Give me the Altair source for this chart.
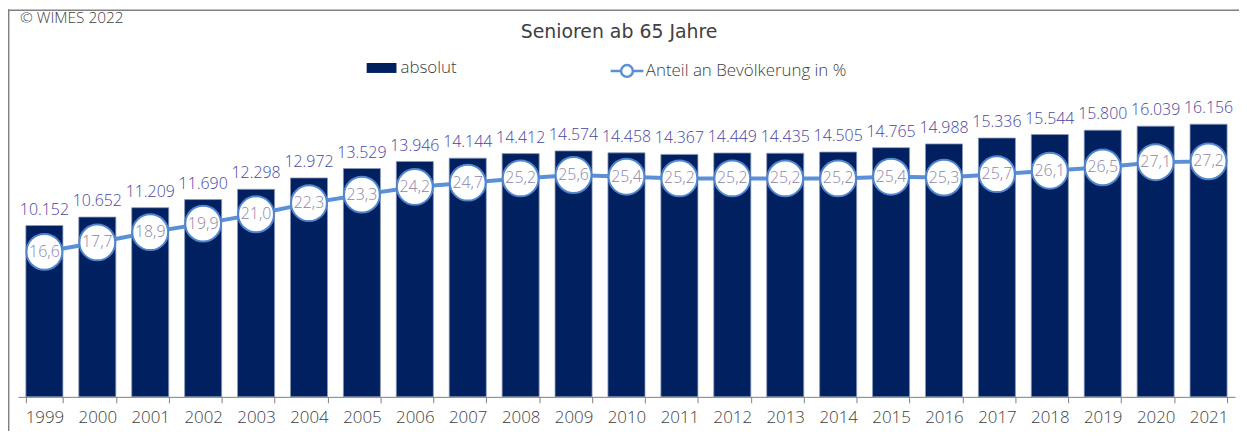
import altair as alt
import pandas as pd

years = [str(y) for y in range(1999, 2022)]
absolut = [10152, 10652, 11209, 11690, 12298, 12972, 13529, 13946, 14144, 14412, 14574, 14458,
           14367, 14449, 14435, 14505, 14765, 14988, 15336, 15544, 15800, 16039, 16156]
anteil = [16.6, 17.7, 18.9, 19.9, 21.0, 22.3, 23.3, 24.2, 24.7, 25.2, 25.6, 25.4,
          25.2, 25.2, 25.2, 25.2, 25.4, 25.3, 25.7, 26.1, 26.5, 27.1, 27.2]

S_ABS = "absolut"
S_PCT = "Anteil an Bevölkerung in %"
TITLE = "Senioren ab 65 Jahre"
COPY = "© WIMES 2022"

df = pd.DataFrame({
    "Jahr": years,
    "absolut": absolut,
    "anteil": anteil,
})
df["abs_label"] = [f"{v:,}".replace(",", ".") for v in absolut]
df["pct_label"] = [f"{v:.1f}".replace(".", ",") for v in anteil]
df["s_abs"] = S_ABS
df["s_pct"] = S_PCT

FONT = "Open Sans"
W, H = 1225, 310

x = alt.X("Jahr:N", sort=years, title=None,
          scale=alt.Scale(paddingInner=0.3, paddingOuter=0.15),
          axis=alt.Axis(labelAngle=0, labelFontSize=17, labelColor="#404040", labelFont=FONT,
                        labelFontWeight=300, domainColor="#808080", tickColor="#808080",
                        tickSize=6, tickBand="extent", labelPadding=7, grid=False))

yabs = alt.Y("absolut:Q", axis=None, scale=alt.Scale(domain=[0, 18250], nice=False, zero=True))
ypct = alt.Y("anteil:Q", axis=None, scale=alt.Scale(domain=[-0.4, 35.7], nice=False, zero=False))

base = alt.Chart(df)

bars = base.mark_bar(stroke="#8C9AB8", strokeWidth=0.8).encode(
    x=x, y=yabs,
    color=alt.Color("s_abs:N", title=None,
                    scale=alt.Scale(domain=[S_ABS], range=["#002060"]),
                    legend=alt.Legend(orient="none", legendX=351, legendY=-36,
                                      symbolType="M-1,-0.333H1V0.333H-1Z", symbolSize=900,
                                      symbolStrokeWidth=0, labelFontSize=17, labelColor="#404040",
                                      labelFont=FONT, labelFontWeight=300, labelOffset=4,
                                      labelLimit=0)),
)
bar_labels = base.mark_text(baseline="alphabetic", dy=-11, fontSize=16, font=FONT,
                            fontWeight=300, color="#4844A4").encode(
    x=x, y=yabs, text="abs_label:N")

abs_layer = alt.layer(bars, bar_labels)

line = base.mark_line(strokeWidth=4).encode(
    x=x, y=ypct,
    color=alt.Color("s_pct:N", title=None,
                    scale=alt.Scale(domain=[S_PCT], range=["#5B8FD8"]),
                    legend=alt.Legend(orient="none", legendX=595, legendY=-36,
                                      symbolType="M-1,0H-0.36M0.36,0H1M-0.36,0A0.36,0.36,0,1,1,0.36,0A0.36,0.36,0,1,1,-0.36,0Z",
                                      symbolSize=1089, symbolStrokeWidth=2.5,
                                      symbolFillColor="white",
                                      labelFontSize=17, labelColor="#404040",
                                      labelFont=FONT, labelFontWeight=300, labelOffset=1,
                                      labelLimit=0)),
)
points = base.mark_point(filled=True, fill="white", stroke="#4F86D0", strokeWidth=2,
                         size=1300, opacity=1, shape="circle").encode(x=x, y=ypct)
pt_labels = base.mark_text(baseline="middle", fontSize=16, font=FONT, fontWeight=300,
                           color="#8B85A9").encode(x=x, y=ypct, text="pct_label:N")

pct_layer = alt.layer(line, points, pt_labels)

one = alt.Chart(pd.DataFrame({"title": [TITLE], "copy": [COPY]}))
frame_top = one.mark_rule(color="#808080", strokeWidth=1.5).encode(
    x=alt.value(-10), x2=alt.value(1230), y=alt.value(-79.2))
frame_left = one.mark_rule(color="#808080", strokeWidth=1.5).encode(
    x=alt.value(-9.3), y=alt.value(-80), y2=alt.value(345))
copyright = one.mark_text(align="left", baseline="alphabetic", fontSize=15.5, font=FONT,
                          fontWeight=300, color="#404040").encode(
    x=alt.value(2), y=alt.value(-66), text="copy:N")
title = one.mark_text(align="center", baseline="alphabetic", fontSize=19, font="DejaVu Sans",
                      color="#404040").encode(
    x=alt.value(605), y=alt.value(-51), text="title:N")

chart = alt.layer(abs_layer, pct_layer, frame_top, frame_left, copyright, title).resolve_scale(
    y="independent", color="independent"
).properties(
    width=W, height=H,
    autosize=alt.AutoSizeParams(type="none"),
    padding={"left": 10, "top": 80, "right": 4, "bottom": 33},
).configure_view(stroke=None).configure_legend(direction="horizontal")

chart.save("out.html", embed_options={"renderer": "svg", "actions": False})
